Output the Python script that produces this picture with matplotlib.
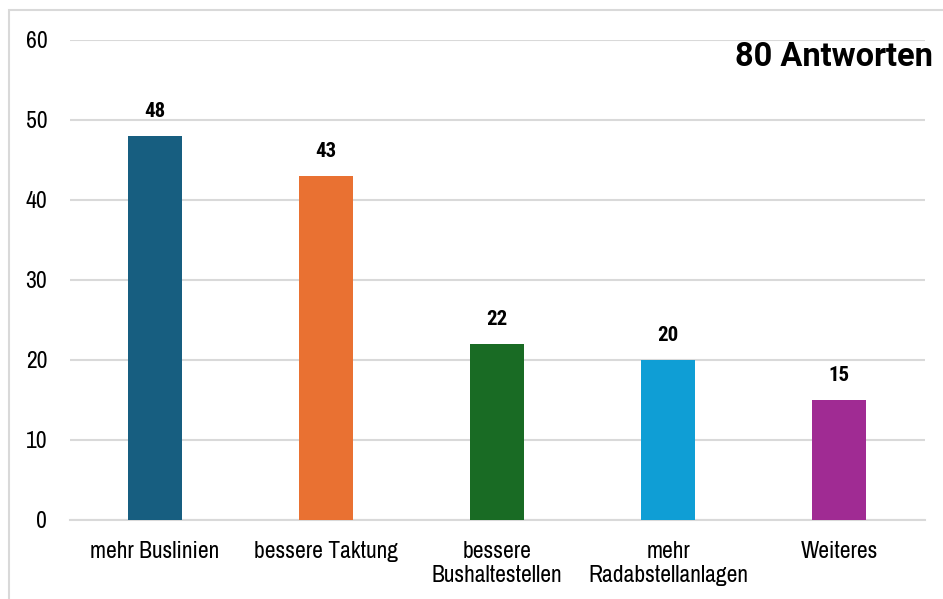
import matplotlib.pyplot as plt
from matplotlib.patches import Rectangle

categories = ["mehr Buslinien", "bessere Taktung", "bessere\nBushaltestellen",
              "mehr\nRadabstellanlagen", "Weiteres"]
values = [48, 43, 22, 20, 15]
colors = ["#175E80", "#E97132", "#196B24", "#0F9ED5", "#A02B93"]
yticks = [0, 10, 20, 30, 40, 50, 60]
title = "80 Antworten"

narrow = ["Archivo Narrow", "DejaVu Sans"]
cond = ["Roboto Condensed", "DejaVu Sans"]

fig = plt.figure(figsize=(9.43, 5.99), dpi=100)
ax = fig.add_axes([69.5 / 943, 79 / 599, 855 / 943, 480 / 599])

x = range(len(categories))
ax.bar(x, values, width=0.32, color=colors, zorder=3)
for i, v in zip(x, values):
    ax.annotate(str(v), (i, v), xytext=(0, 11), textcoords="offset points",
                ha="center", va="bottom", fontsize=15, fontweight="bold",
                family=cond)

ax.set_xlim(-0.5, len(categories) - 0.5)
ax.set_ylim(0, 60)
ax.set_yticks(yticks)
ax.set_xticks(list(x))
ax.set_xticklabels(categories, family=narrow, fontsize=17, linespacing=1.2)
for lab in ax.get_yticklabels():
    lab.set_family(narrow)
    lab.set_fontsize(17)
ax.tick_params(axis="both", length=0)
ax.tick_params(axis="x", pad=15)
ax.tick_params(axis="y", pad=16)
ax.grid(axis="y", color="#D9D9D9", linewidth=1.5, zorder=0)
for s in ["top", "right", "left"]:
    ax.spines[s].set_visible(False)
ax.spines["bottom"].set_color("#D9D9D9")
ax.spines["bottom"].set_linewidth(1.5)

fig.text(933 / 943, 1 - 41 / 599, title, ha="right", va="top",
         fontsize=23.5, fontweight="bold", family=["Roboto", "DejaVu Sans"])

# outer frame
fig.patches.append(Rectangle((9 / 943, -0.1), 1.2, 1 - 10 / 599 + 0.1,
                             transform=fig.transFigure, fill=False,
                             edgecolor="#D9D9D9", linewidth=1.5))

fig.savefig("out.png", dpi=100)
